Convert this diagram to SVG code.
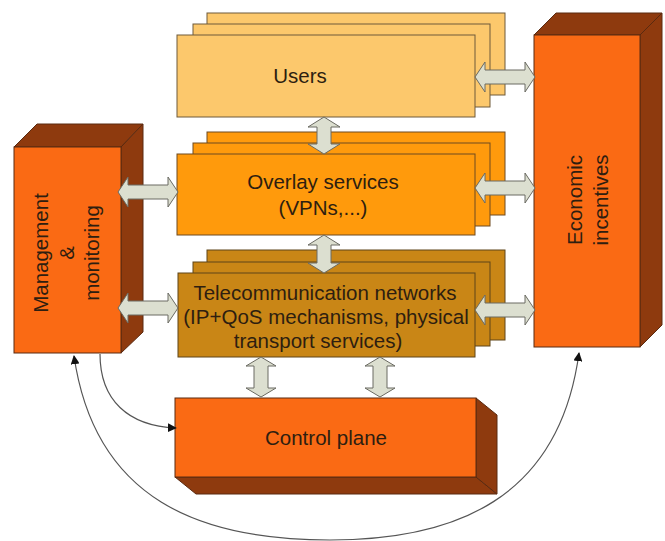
<svg xmlns="http://www.w3.org/2000/svg" width="665" height="541" viewBox="0 0 665 541">
<style>
text{font-family:"Liberation Sans",Arial,sans-serif;font-size:20.5px;fill:#2e1e10;text-anchor:middle}
.u{fill:#fcc86c;stroke:#6e5a3a;stroke-width:1}
.o{fill:#ff9a0c;stroke:#6e4a20;stroke-width:1}
.t{fill:#c98616;stroke:#5e4418;stroke-width:1}
.f{fill:#fa6a14;stroke:#5a2a10;stroke-width:1}
.d{fill:#8e3a0e;stroke:#5a2a10;stroke-width:1}
.a{fill:#dcdfd0;stroke:#6a6a62;stroke-width:1}
.c{fill:none;stroke:#555;stroke-width:1.2}
</style>
<defs>
<marker id="ah" viewBox="0 0 10 10" refX="9" refY="5" markerWidth="9" markerHeight="9" markerUnits="userSpaceOnUse" orient="auto">
<path d="M0,0 L10,5 L0,10 z" fill="#111"/>
</marker>
</defs>
<rect width="665" height="541" fill="#fff"/>

<g id="users">
<rect class="u" x="207" y="13" width="298" height="82"/>
<rect class="u" x="193" y="24" width="297" height="83"/>
<rect class="u" x="177" y="35" width="298" height="82"/>
<text x="300" y="83">Users</text>
</g>

<g id="overlay">
<rect class="o" x="207" y="132" width="298" height="83"/>
<rect class="o" x="193" y="143" width="297" height="83"/>
<rect class="o" x="177" y="154" width="298" height="81"/>
<text x="323" y="189">Overlay services</text>
<text x="323" y="215">(VPNs,...)</text>
</g>

<g id="telecom">
<rect class="t" x="207" y="250" width="298" height="90"/>
<rect class="t" x="193" y="262" width="297" height="84"/>
<rect class="t" x="178" y="273" width="297" height="84"/>
<text x="325" y="300">Telecommunication networks</text>
<text x="326" y="324">(IP+QoS mechanisms, physical</text>
<text x="318" y="348">transport services)</text>
</g>

<g id="management">
<polygon class="d" points="14,147 37,124 143,124 121,147"/>
<polygon class="d" points="121,147 143,124 143,332 121,353"/>
<rect class="f" x="14" y="147" width="107" height="206"/>
<text transform="translate(48,253) rotate(-90)">Management</text>
<text transform="translate(74,253) rotate(-90)">&amp;</text>
<text transform="translate(99,253) rotate(-90)">monitoring</text>
</g>

<g id="economic">
<polygon class="d" points="534,35 556,13 662,13 640,35"/>
<polygon class="d" points="640,35 662,13 662,325 640,347"/>
<rect class="f" x="534" y="35" width="106" height="312"/>
<text transform="translate(582,200) rotate(-90)">Economic</text>
<text transform="translate(608,200) rotate(-90)">incentives</text>
</g>

<g id="control">
<polygon class="d" points="175,477 476,477 497,494 196,494"/>
<polygon class="d" points="476,398 497,415 497,494 476,477"/>
<rect class="f" x="175" y="398" width="301" height="79"/>
<text x="326" y="445">Control plane</text>
</g>

<g id="connectors">
<polygon class="a" points="475,77 485,62 485,70 525,70 525,62 535,77 525,92 525,84 485,84 485,92"/>
<polygon class="a" points="475,188 485,173 485,181 525,181 525,173 535,188 525,203 525,195 485,195 485,203"/>
<polygon class="a" points="475,310 485,295 485,303 525,303 525,295 535,310 525,325 525,317 485,317 485,325"/>
<polygon class="a" points="118,192 128,177 128,185 168,185 168,177 178,192 168,207 168,199 128,199 128,207"/>
<polygon class="a" points="118,308 128,293 128,301 168,301 168,293 178,308 168,323 168,315 128,315 128,323"/>
<polygon class="a" points="324,117 340,127 331,127 331,144 340,144 324,154 308,144 317,144 317,127 308,127"/>
<polygon class="a" points="324,235 340,245 331,245 331,263 340,263 324,273 308,263 317,263 317,245 308,245"/>
<polygon class="a" points="261,357 276,366 268,366 268,388 276,388 261,397 246,388 254,388 254,366 246,366"/>
<polygon class="a" points="380,357 395,366 387,366 387,388 395,388 380,397 365,388 373,388 373,366 365,366"/>
<path class="c" d="M100,354 C100,400 128,426 176,428" marker-end="url(#ah)"/>
<path class="c" d="M330,540 C200,540 95,500 74,356" marker-end="url(#ah)"/>
<path class="c" d="M330,540 C454,540 559,500 579,353" marker-end="url(#ah)"/>
</g>
</svg>
